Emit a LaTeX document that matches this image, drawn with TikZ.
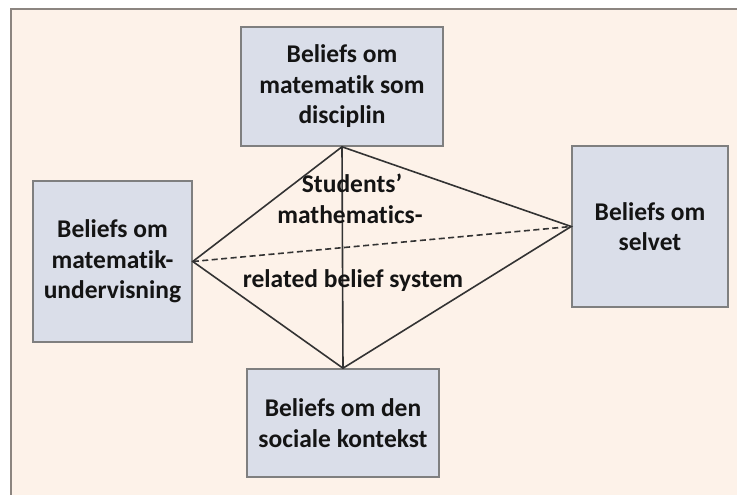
\documentclass[tikz,border=0pt]{standalone}
\usepackage{fontspec}
\setmainfont[Ligatures=NoCommon]{Carlito}
\definecolor{pagebg}{HTML}{FDF2E9}
\definecolor{framecol}{HTML}{8C8580}
\definecolor{boxfill}{HTML}{DADEE9}
\definecolor{boxline}{HTML}{7F7F7F}
\definecolor{linecol}{HTML}{333333}
\definecolor{inkcol}{HTML}{141414}
\tikzset{
  beliefbox/.style={draw=boxline, fill=boxfill, line width=1.6pt, align=center,
    inner sep=0pt, text=inkcol, font=\fontsize{25.5}{30.5}\selectfont\bfseries},
  centretext/.style={anchor=base, inner sep=0pt, text=inkcol,
    font=\fontsize{25.5}{30.5}\selectfont\bfseries},
  edge/.style={draw=linecol, line width=1.6pt},
  dashededge/.style={edge, dash pattern=on 6pt off 3.5pt}
}
\begin{document}
\begin{tikzpicture}[x=1pt,y=-1pt]
\useasboundingbox (0,0) rectangle (737,495);
% page background and frame
\fill[pagebg] (11,9) rectangle (737,495);
\draw[framecol, line width=1.2pt] (11,495) -- (11,9) -- (737,9);

% the four belief areas
\node[beliefbox, minimum width=202pt, minimum height=119pt] (disc) at (342,86.5)
  {Beliefs om\\matematik som\\disciplin};
\node[beliefbox, minimum width=159pt, minimum height=161pt] (teach) at (112.5,261.5)
  {Beliefs om\\matematik-\\undervisning};
\node[beliefbox, minimum width=156pt, minimum height=161pt] (self) at (650,226.5)
  {Beliefs om\\selvet};
\node[beliefbox, minimum width=192pt, minimum height=108pt] (social) at (343,423)
  {Beliefs om den\\sociale kontekst};

% the belief system as a tetrahedron
\draw[edge] (disc.south) -- (teach.east) -- (social.north) -- (self.west) -- cycle;
\draw[edge] (disc.south) -- (social.north);
\draw[dashededge] (teach.east) -- (self.west);

% label of the belief system
\node[centretext] (lbla) at (352,192) {Students’};
\node[centretext] (lblb) at (350,223) {mathematics-};
\node[centretext] (lblc) at (353,287) {related belief system};
\end{tikzpicture}
\end{document}
